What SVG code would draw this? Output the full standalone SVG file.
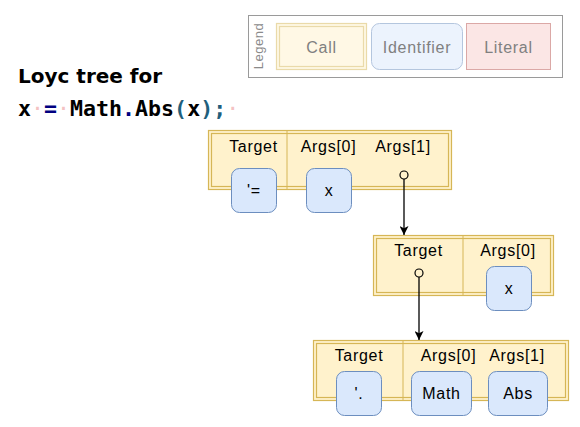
<svg xmlns="http://www.w3.org/2000/svg" width="580" height="427" viewBox="0 0 580 427">
<defs>
<marker id="arr" viewBox="0 0 10 10" refX="10" refY="5" markerWidth="9" markerHeight="9" markerUnits="userSpaceOnUse" orient="auto">
<path d="M0,0 L10,5 L0,10 L2.5,5 Z" fill="#000"/>
</marker>
</defs>
<style>
.call{fill:#fff2cc;stroke:#d6b656;stroke-width:1.2}
.calli{fill:none;stroke:#d6b656;stroke-width:1.2}
.div{stroke:#d6b656;stroke-width:1}
.id{fill:#dae8fc;stroke:#6c8ebf;stroke-width:1}
.hdr{font-family:"Liberation Sans",Arial,sans-serif;font-size:16px;letter-spacing:0.7px;fill:#000;text-anchor:middle}
.lbl{font-family:"Liberation Sans",Arial,sans-serif;font-size:16px;letter-spacing:0.7px;fill:#000;text-anchor:middle}
.lg{font-family:"Liberation Sans",Arial,sans-serif;font-size:16px;letter-spacing:0.7px;fill:#808080;text-anchor:middle}
.conn{stroke:#000;stroke-width:1.3;fill:none}
.dot{fill:#fff2cc;stroke:#000;stroke-width:1.2}
.code{font-family:"DejaVu Sans Mono",monospace;font-size:21.6px;font-weight:bold;fill:#000}
.ws{fill:#f4c2c2;font-weight:normal}
.kw{fill:#000080}
.par{fill:#1f5f7c}
</style>

<g id="title">
<text x="18" y="83" font-family="DejaVu Sans,sans-serif" font-weight="bold" font-size="20" fill="#000">Loyc tree for</text>
<text x="18" y="116" class="code" xml:space="preserve">x<tspan class="ws">·</tspan><tspan class="kw">=</tspan><tspan class="ws">·</tspan>Math<tspan class="kw">.</tspan>Abs<tspan class="par">(</tspan>x<tspan class="par">)</tspan><tspan class="par">;</tspan><tspan class="ws">·</tspan></text>
</g>

<g id="legend">
<rect x="248.5" y="15.5" width="314" height="62" fill="#fff" stroke="#9a9a9a" stroke-width="1"/>
<text transform="translate(263,46) rotate(-90)" font-family="Liberation Sans,Arial,sans-serif" font-size="13" fill="#8a8a8a" text-anchor="middle" letter-spacing="0.5">Legend</text>
<g opacity="0.5">
<rect x="276.5" y="23.5" width="90" height="46" class="call"/>
<rect x="279.5" y="26.5" width="84" height="40" class="calli"/>
<rect x="371.5" y="23.5" width="91" height="46" rx="8" fill="#dae8fc" stroke="#6c8ebf"/>
<rect x="466.5" y="23.5" width="84" height="46" fill="#f8cecc" stroke="#b85450"/>
</g>
<text x="321.5" y="53" class="lg">Call</text>
<text x="417" y="53" class="lg">Identifier</text>
<text x="508.5" y="53" class="lg">Literal</text>
</g>

<g id="call1">
<rect x="208.5" y="130.5" width="243" height="59" class="call"/>
<rect x="211.5" y="133.5" width="237" height="53" class="calli"/>
<line x1="287" y1="130.5" x2="287" y2="189.5" class="div"/>
<text x="253.5" y="152" class="hdr">Target</text>
<text x="328.5" y="152" class="hdr">Args[0]</text>
<text x="403" y="152" class="hdr">Args[1]</text>
</g>
<g id="id-assign">
<rect x="231.5" y="168.5" width="45" height="44" rx="8" class="id"/>
<text x="254" y="196" class="lbl">'=</text>
</g>
<g id="id-x1">
<rect x="306.5" y="168.5" width="45" height="44" rx="8" class="id"/>
<text x="329" y="196" class="lbl">x</text>
</g>

<g id="call2">
<rect x="373.5" y="235.5" width="180" height="60" class="call"/>
<rect x="376.5" y="238.5" width="174" height="54" class="calli"/>
<line x1="463" y1="235.5" x2="463" y2="295.5" class="div"/>
<text x="418.5" y="256" class="hdr">Target</text>
<text x="508" y="256" class="hdr">Args[0]</text>
</g>
<g id="id-x2">
<rect x="486.5" y="266.5" width="45" height="44" rx="8" class="id"/>
<text x="509" y="294" class="lbl">x</text>
</g>

<g id="call3">
<rect x="313.5" y="340.5" width="255" height="60" class="call"/>
<rect x="316.5" y="343.5" width="249" height="54" class="calli"/>
<line x1="403" y1="340.5" x2="403" y2="400.5" class="div"/>
<text x="359" y="361" class="hdr">Target</text>
<text x="448.5" y="361" class="hdr">Args[0]</text>
<text x="517" y="361" class="hdr">Args[1]</text>
</g>
<g id="id-dot">
<rect x="336.5" y="371.5" width="45" height="44" rx="8" class="id"/>
<text x="359" y="399" class="lbl">'.</text>
</g>
<g id="id-math">
<rect x="411.5" y="371.5" width="60" height="44" rx="8" class="id"/>
<text x="441.5" y="399" class="lbl">Math</text>
</g>
<g id="id-abs">
<rect x="488.5" y="371.5" width="59" height="44" rx="8" class="id"/>
<text x="518" y="399" class="lbl">Abs</text>
</g>

<g id="connectors">
<line x1="404" y1="179" x2="404" y2="235" class="conn" marker-end="url(#arr)"/>
<circle cx="404" cy="175" r="4" class="dot"/>
<line x1="419" y1="277" x2="419" y2="340" class="conn" marker-end="url(#arr)"/>
<circle cx="419" cy="273" r="4" class="dot"/>
</g>
</svg>
